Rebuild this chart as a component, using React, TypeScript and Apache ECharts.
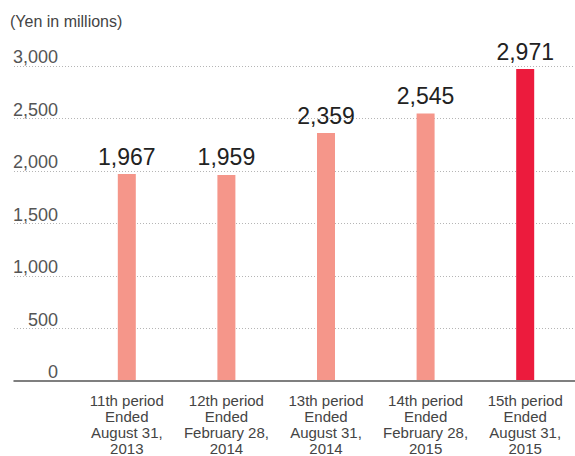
import React, { useEffect, useRef } from "react";
import * as echarts from "echarts";

const categories = [
  "11th period\nEnded\nAugust 31,\n2013",
  "12th period\nEnded\nFebruary 28,\n2014",
  "13th period\nEnded\nAugust 31,\n2014",
  "14th period\nEnded\nFebruary 28,\n2015",
  "15th period\nEnded\nAugust 31,\n2015",
];
const values = [1967, 1959, 2359, 2545, 2971];
const unitLabel = "(Yen in millions)";
const yMin = 0;
const yMax = 3000;
const yStep = 500;

const FONT = "'Liberation Sans', Arial, Helvetica, sans-serif";

export default function App() {
  const ref = useRef<HTMLDivElement>(null);
  useEffect(() => {
    if (!ref.current) return;
    const chart = echarts.init(ref.current, undefined, { renderer: "svg" });
    const top = 66;
    const bottom = 456 - 381;
    chart.setOption({
      animation: false,
      textStyle: { fontFamily: FONT },
      title: {
        text: unitLabel,
        left: 10,
        top: 13,
        padding: 0,
        textStyle: { fontSize: 16, fontWeight: "normal", color: "#444", fontFamily: FONT },
      },
      grid: [
        { left: 14, right: 0, top, bottom, containLabel: false },
        { left: 77, right: 0, top, bottom, containLabel: false },
      ],
      xAxis: [
        {
          type: "value",
          gridIndex: 0,
          min: 0,
          max: 1,
          axisLine: { show: true, onZero: false, lineStyle: { color: "#555", width: 1.5 } },
          axisTick: { show: false },
          axisLabel: { show: false },
          splitLine: { show: false },
        },
        {
          type: "category",
          gridIndex: 1,
          data: categories,
          axisLine: { show: false },
          axisTick: { show: false },
          axisLabel: {
            interval: 0,
            margin: 12,
            fontSize: 15,
            lineHeight: 16,
            color: "#444",
            fontFamily: FONT,
          },
        },
      ],
      yAxis: [
        {
          type: "value",
          gridIndex: 0,
          min: yMin,
          max: yMax,
          interval: yStep,
          axisLine: { show: false },
          axisTick: { show: false },
          axisLabel: {
            inside: true,
            align: "right",
            verticalAlign: "bottom",
            margin: 44,
            fontSize: 18,
            color: "#555",
            fontFamily: FONT,
            formatter: (v: number) => v.toLocaleString("en-US"),
          },
          splitLine: {
            show: true,
            showMinLine: false,
            lineStyle: { color: "#b5b5b5", type: [1, 2], width: 1 },
          },
        },
        {
          type: "value",
          gridIndex: 1,
          min: yMin,
          max: yMax,
          show: false,
          splitLine: { show: false },
        },
      ],
      series: [
        {
          type: "bar",
          xAxisIndex: 1,
          yAxisIndex: 1,
          barWidth: 18,
          data: values.map((v, i) => ({
            value: v,
            itemStyle: { color: i === values.length - 1 ? "#EC1B3D" : "#F5968A" },
          })),
          label: {
            show: true,
            position: "top",
            distance: 6,
            fontSize: 23,
            color: "#222",
            fontFamily: FONT,
            formatter: (p: any) => Number(p.value).toLocaleString("en-US"),
          },
        },
      ],
    });
    return () => chart.dispose();
  }, []);
  return (
    <div
      ref={ref}
      style={{ position: "fixed", left: 0, top: 0, width: 575, height: 456, background: "#fff" }}
    />
  );
}
